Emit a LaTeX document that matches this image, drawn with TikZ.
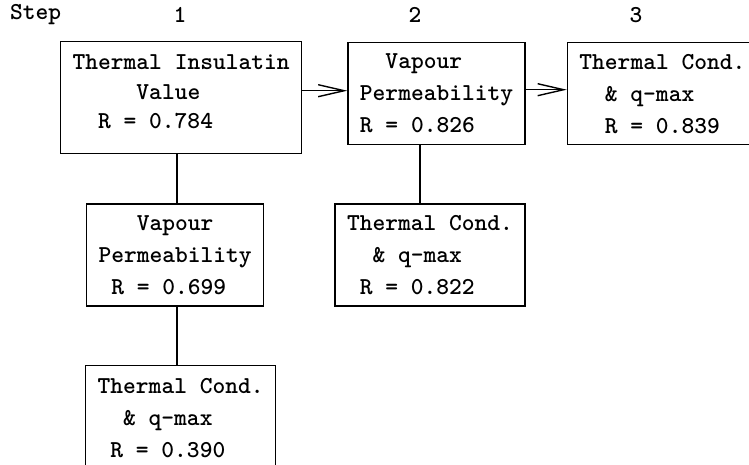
\documentclass[tikz,border=0pt]{standalone}
\usepackage{fontspec}
\usetikzlibrary{arrows.meta,positioning}
\tikzset{
  caja/.style={
    draw=black,
    line width=1.4pt,
    align=left,
    inner xsep=12pt,
    inner ysep=0pt,
    minimum height=102pt,
    font=\ttfamily\bfseries\fontsize{24.3}{32}\selectfont
  },
  rotulo/.style={
    inner sep=0pt,
    font=\ttfamily\bfseries\fontsize{24.3}{25}\selectfont
  },
  linea/.style={
    line width=1.4pt
  },
  arrow/.style={
    -{Straight Barb[length=26pt,width=12pt,line width=1.4pt]},
    line width=1.4pt
  }
}

\begin{document}
\begin{tikzpicture}[x=1pt,y=-1pt]
\useasboundingbox (0,0) rectangle (749,464);
\node[rotulo,anchor=west] (step) at (10,15) {Step};
\node[rotulo] (s1) at (180,15) {1};
\node[rotulo] (s2) at (415,15) {2};
\node[rotulo] (s3) at (636,15) {3};
\node[caja,anchor=north west,minimum height=112pt,font=\ttfamily\bfseries\fontsize{24.3}{29.5}\selectfont] (tiv) at (60,41) {Thermal Insulatin\\~~~~~Value\\~~R = 0.784\\[-18pt]\mbox{}};
\node[caja,right=45pt of tiv,yshift=4pt] (vp) {~~Vapour\\Permeability\\R = 0.826};
\node[caja,right=41pt of vp] (tc) {Thermal Cond.\\~~\& q-max\\~~R = 0.839};
\node[caja,below=49pt of tiv,xshift=-6pt] (vpa) {~~~Vapour\\Permeability\\~R = 0.699};
\node[caja,below=58pt of vpa,xshift=5.5pt,minimum height=106pt] (tca) {Thermal Cond.\\~~\& q-max\\~R = 0.390};
\node[caja,below=58pt of vp,xshift=-6.5pt] (tcb) {Thermal Cond.\\~~\& q-max\\~R = 0.822};
\draw[arrow] ([yshift=3pt]vp.west -| tiv.east) -- ([yshift=3pt]vp.west);
\draw[arrow] ([yshift=4pt]vp.east) -- ([yshift=4pt]tc.west);
\draw[linea] ([xshift=2pt]vpa.north) -- ([xshift=2pt]vpa.north |- tiv.south);
\draw[linea] ([xshift=2pt]vpa.south) -- ([xshift=2pt]vpa.south |- tca.north);
\draw[linea] ([xshift=-10pt]tcb.north) -- ([xshift=-10pt]tcb.north |- vp.south);
\end{tikzpicture}
\end{document}
